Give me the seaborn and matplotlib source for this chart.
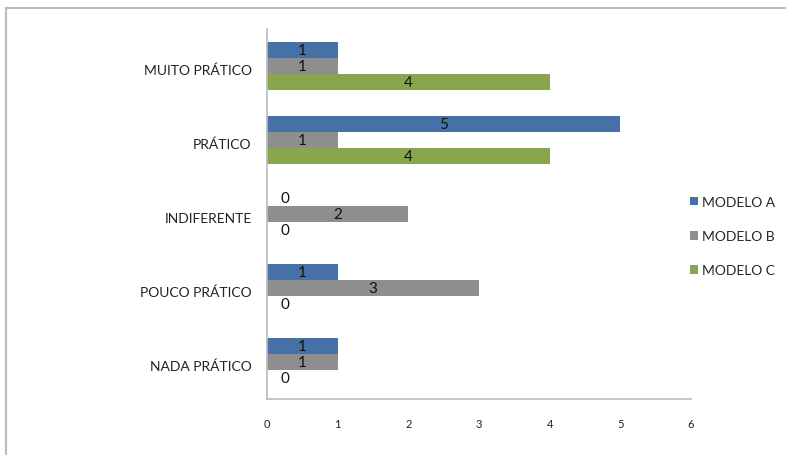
import matplotlib
matplotlib.use("Agg")
import matplotlib.pyplot as plt
import seaborn as sns
import pandas as pd
from matplotlib.lines import Line2D
import matplotlib.transforms as mtransforms

categories = ["MUITO PRÁTICO", "PRÁTICO", "INDIFERENTE", "POUCO PRÁTICO", "NADA PRÁTICO"]
series = ["MODELO A", "MODELO B", "MODELO C"]
modelo_a = [1, 5, 0, 1, 1]
modelo_b = [1, 1, 2, 3, 1]
modelo_c = [4, 4, 0, 0, 0]
xticks = [0, 1, 2, 3, 4, 5, 6]

rows = []
for s, vals in zip(series, [modelo_a, modelo_b, modelo_c]):
    for c, v in zip(categories, vals):
        rows.append({"categoria": c, "modelo": s, "valor": v})
df = pd.DataFrame(rows)

sns.set_theme(style="white")
plt.rcParams['font.family'] = ['Lato', 'DejaVu Sans']

palette = {"MODELO A": "#4571A6", "MODELO B": "#8E8E8E", "MODELO C": "#88A64E"}

fig = plt.figure(figsize=(7.86, 4.56), dpi=100)
ax = fig.add_axes([267/786, 1 - 400/456, (691-267)/786, (400-30)/456])

sns.barplot(data=df, y="categoria", x="valor", hue="modelo", order=categories,
            hue_order=series, palette=palette, orient="h", width=0.66,
            saturation=1, linewidth=0, ax=ax, legend=True)

for cont in ax.containers:
    for bar in cont:
        w = bar.get_width()
        yc = bar.get_y() + bar.get_height() / 2
        xpos = w / 2 if w > 0 else 0.25
        ax.text(xpos, yc, f"{int(round(w))}", ha="center", va="center",
                fontsize=11, color="#111111")

ax.set_xlim(0, 6)
ax.set_ylim(4.5, -0.5)
ax.set_xticks(xticks)
ax.set_xticklabels([str(t) for t in xticks], fontsize=8, color="#222222")
ax.set_yticks(range(len(categories)))
ax.set_yticklabels(categories, fontsize=10, color="#222222")
ax.tick_params(axis="y", length=0, pad=11)
ax.tick_params(axis="x", length=0, pad=14)
ax.set_xlabel("")
ax.set_ylabel("")
for sp in ["top", "right"]:
    ax.spines[sp].set_visible(False)
for sp in ["left", "bottom"]:
    ax.spines[sp].set_color("#BBBBBB")
    ax.spines[sp].set_linewidth(1.2)

ax.set_yticks([i - 0.5 for i in range(len(categories) + 1)], minor=True)
ax.tick_params(axis="y", which="minor", length=5, color="#BBBBBB", width=1.2, direction="out")
ax.set_xticks(xticks, minor=True)
ax.tick_params(axis="x", which="minor", length=4, color="#BBBBBB", width=1.2, direction="inout")

offset = mtransforms.ScaledTranslation(0, -3/100, fig.dpi_scale_trans)
for lbl in ax.get_yticklabels():
    lbl.set_transform(lbl.get_transform() + offset)

leg = ax.legend(loc="center left", bbox_to_anchor=(0.997, 0.44), frameon=False,
                fontsize=10, handlelength=0.6, handleheight=0.6, handletextpad=0.3,
                labelspacing=1.6, borderaxespad=0, borderpad=0)

fig.add_artist(Line2D([6/786, 6/786], [0, 1 - 9/456], transform=fig.transFigure,
                      color="#BBBBBB", linewidth=1.5))
fig.add_artist(Line2D([6/786, 1], [1 - 9/456, 1 - 9/456], transform=fig.transFigure,
                      color="#BBBBBB", linewidth=1.5))

fig.savefig("out.png", dpi=100)
